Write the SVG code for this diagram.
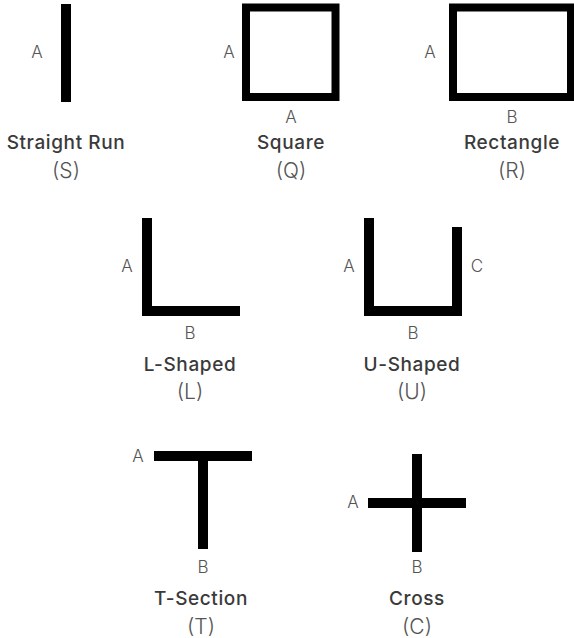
<svg xmlns="http://www.w3.org/2000/svg" width="574" height="638" viewBox="0 0 574 638">
<style>
.bar{fill:#000}
.frame{fill:none;stroke:#000;stroke-width:8}
.lbl{font-family:Inter,"Noto Sans",sans-serif;font-size:17px;font-weight:300;fill:#555;text-anchor:middle}
.ttl{font-family:Inter,"Noto Sans",sans-serif;font-size:19px;font-weight:450;fill:#3a3a3a;text-anchor:middle;letter-spacing:0.6px}
.code{font-family:Inter,"Noto Sans",sans-serif;font-size:21px;font-weight:300;fill:#555;text-anchor:middle}
</style>
<rect width="574" height="638" fill="#fff"/>
<g id="straight">
<rect class="bar" x="61" y="4" width="10" height="98"/>
<text class="lbl" x="37" y="58">A</text>
<text class="ttl" x="66" y="149">Straight Run</text>
<text class="code" x="66" y="178">(S)</text>
</g>
<g id="square">
<rect class="frame" x="246" y="7.5" width="89.5" height="89.5"/>
<text class="lbl" x="229" y="58">A</text>
<text class="lbl" x="291" y="123">A</text>
<text class="ttl" x="291" y="149">Square</text>
<text class="code" x="291" y="178">(Q)</text>
</g>
<g id="rectangle">
<rect class="frame" x="453" y="7.5" width="118" height="89.5"/>
<text class="lbl" x="430" y="58">A</text>
<text class="lbl" x="512" y="123">B</text>
<text class="ttl" x="512" y="149">Rectangle</text>
<text class="code" x="512" y="178">(R)</text>
</g>
<g id="l-shaped">
<path class="bar" d="M142 218H152V306H240V316H142Z"/>
<text class="lbl" x="127" y="272">A</text>
<text class="lbl" x="190" y="339">B</text>
<text class="ttl" x="190" y="371">L-Shaped</text>
<text class="code" x="190" y="399">(L)</text>
</g>
<g id="u-shaped">
<path class="bar" d="M364 218H374V306H452V227H462V316H364Z"/>
<text class="lbl" x="349" y="272">A</text>
<text class="lbl" x="477" y="272">C</text>
<text class="lbl" x="413" y="339">B</text>
<text class="ttl" x="412" y="371">U-Shaped</text>
<text class="code" x="412" y="399">(U)</text>
</g>
<g id="t-section">
<path class="bar" d="M154 451H252V461H208V549H198V461H154Z"/>
<text class="lbl" x="138" y="462">A</text>
<text class="lbl" x="203" y="573">B</text>
<text class="ttl" x="201" y="605">T-Section</text>
<text class="code" x="201" y="634">(T)</text>
</g>
<g id="cross">
<path class="bar" d="M412 454H422V498H466V508H422V552H412V508H368V498H412Z"/>
<text class="lbl" x="353" y="508">A</text>
<text class="lbl" x="417" y="573">B</text>
<text class="ttl" x="417" y="605">Cross</text>
<text class="code" x="417" y="634">(C)</text>
</g>
<g id="connectors"/>
</svg>
